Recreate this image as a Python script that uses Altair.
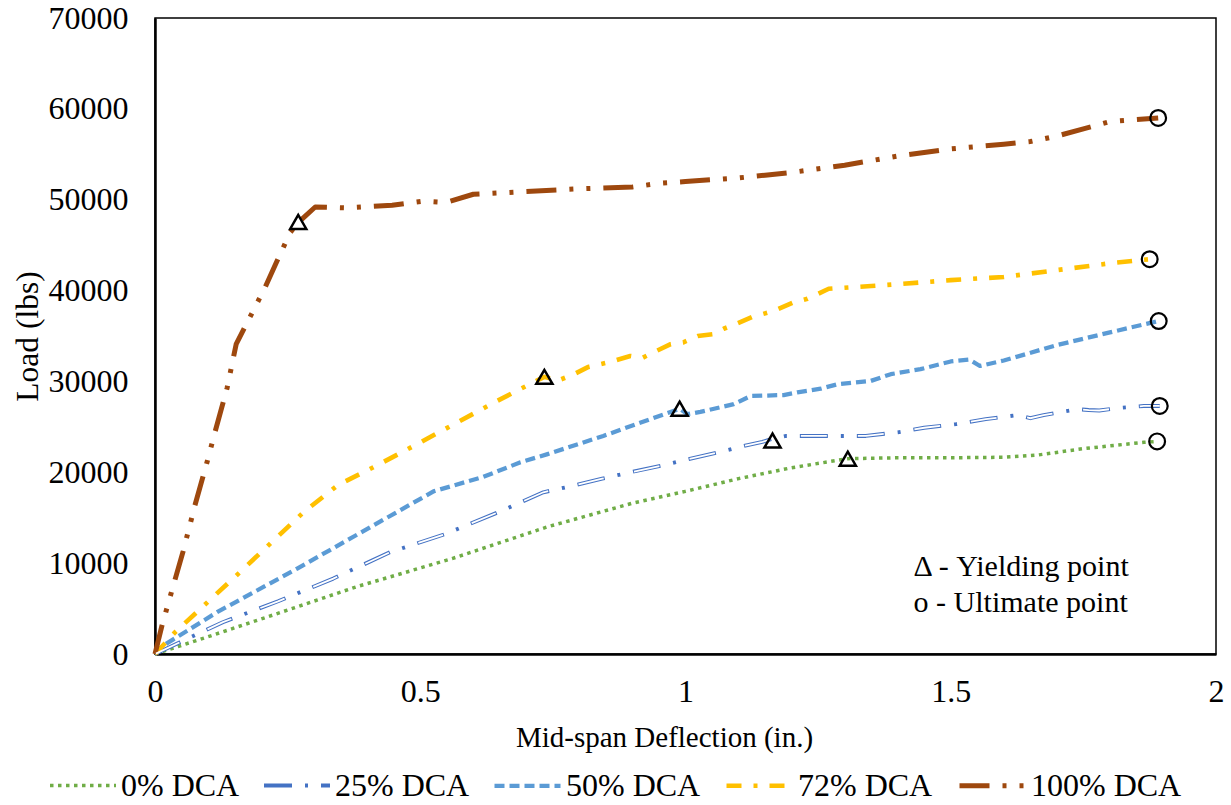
import altair as alt
import pandas as pd

FONT = "Liberation Serif"

series = ["0% DCA", "25% DCA", "50% DCA", "72% DCA", "100% DCA"]
colors = ["#70AD47", "#4472C4", "#5B9BD5", "#FFC000", "#9E480E"]
dashes = [[3.5, 4.5], [28, 13, 3, 13], [10, 5], [15, 12, 4, 12], [30, 13, 4, 13, 4, 13]]
widths = [3.5, 5, 4, 4, 4]

# 0% DCA
x0 = [0, 0.1, 0.2, 0.38, 0.56, 0.74, 0.9, 1.0, 1.1, 1.2, 1.306, 1.4, 1.5, 1.6, 1.664, 1.75, 1.864, 1.889]
y0 = [0, 1900, 3850, 7400, 10500, 14000, 16600, 17900, 19300, 20500, 21500, 21600, 21600, 21650, 21900, 22600, 23300, 23400]

# 25% DCA
x25 = [0, 0.047, 0.128, 0.232, 0.336, 0.443, 0.547, 0.651, 0.732, 0.787, 0.843, 0.896, 0.953, 1.006,
       1.062, 1.117, 1.145, 1.165, 1.19, 1.34, 1.40, 1.45, 1.51, 1.566, 1.60, 1.626, 1.65, 1.675,
       1.71, 1.74, 1.76, 1.78, 1.82, 1.864, 1.894]
y25 = [0, 1300, 3500, 5800, 8300, 11200, 13200, 15700, 17800, 18500, 19300, 20000, 20700, 21450,
       22200, 23000, 23350, 23700, 24000, 24000, 24400, 24900, 25300, 25850, 26100, 26300, 25950, 26300,
       26650, 26950, 26850, 26800, 27100, 27300, 27300]

# 50% DCA
x50 = [0, 0.015, 0.117, 0.268, 0.392, 0.525, 0.619, 0.689, 0.74, 0.845, 0.989, 1.004, 1.028, 1.091,
       1.123, 1.185, 1.211, 1.255, 1.287, 1.349, 1.387, 1.443, 1.5, 1.535, 1.555, 1.6, 1.7, 1.8, 1.892]
y50 = [0, 900, 4600, 9400, 13500, 17900, 19500, 21100, 22000, 24000, 27000, 26400, 26650, 27500,
       28400, 28500, 28800, 29200, 29700, 30050, 30800, 31350, 32200, 32400, 31700, 32300, 34000, 35400, 36650]

# 72% DCA
x72 = [0, 0.038, 0.16, 0.22, 0.28, 0.345, 0.42, 0.494, 0.64, 0.713, 0.734, 0.76, 0.79, 0.817, 0.855,
       0.896, 0.919, 0.945, 0.972, 0.996, 1.023, 1.051, 1.072, 1.098, 1.126, 1.166, 1.204, 1.23, 1.27,
       1.35, 1.4, 1.5, 1.6, 1.7, 1.8, 1.875]
y72 = [0, 2400, 9000, 12300, 15600, 18600, 20800, 23100, 27700, 29900, 30500, 30100, 30800, 31600, 32100,
       32800, 32600, 33350, 34100, 34300, 35000, 35200, 35800, 36400, 37100, 37750, 38700, 39100, 40200,
       40500, 40700, 41150, 41500, 42250, 43000, 43450]

# 100% DCA
x100 = [0, 0.013, 0.03, 0.053, 0.075, 0.098, 0.113, 0.136, 0.153, 0.208, 0.23, 0.255, 0.27, 0.302,
        0.364, 0.447, 0.506, 0.534, 0.557, 0.6, 0.7, 0.8, 0.9, 0.95, 1.0, 1.1, 1.15, 1.2, 1.3, 1.4,
        1.5, 1.6, 1.65, 1.7, 1.75, 1.8, 1.891]
y100 = [0, 3100, 6600, 11300, 16300, 21100, 24400, 29300, 34100, 40400, 43250, 46400, 47500, 49200,
        49100, 49400, 49850, 49750, 49850, 50600, 50900, 51200, 51400, 51800, 52000, 52400, 52700, 53000,
        53800, 54800, 55600, 56100, 56400, 57000, 57800, 58600, 59000]

# Yielding (triangle) and ultimate (circle) points
yield_x = [1.306, 1.164, 0.989, 0.734, 0.270]
yield_y = [21500, 23500, 27000, 30500, 47550]
ult_x = [1.889, 1.894, 1.892, 1.875, 1.891]
ult_y = [23400, 27300, 36650, 43450, 59000]

y_ticks = [0, 10000, 20000, 30000, 40000, 50000, 60000, 70000]
x_ticks = [0, 0.5, 1, 1.5, 2]

note_text = ["\u0394 - Yielding point", "o - Ultimate point"]
note_x = [1.43, 1.43]
note_y = [9600, 5600]

rows = []
for name, xs, ys in zip(series, [x0, x25, x50, x72, x100], [y0, y25, y50, y72, y100]):
    for i, (a, b) in enumerate(zip(xs, ys)):
        rows.append({"series": name, "x": a, "y": b, "i": i})
df = pd.DataFrame(rows)
df25 = df[df["series"] == "25% DCA"]

df_yield = pd.DataFrame({"x": yield_x, "y": yield_y})
df_ult = pd.DataFrame({"x": ult_x, "y": ult_y})
df_note = pd.DataFrame({"x": note_x, "y": note_y, "t": note_text})

xscale = alt.Scale(domain=[0, 2], nice=False, zero=True)
yscale = alt.Scale(domain=[0, 70000], nice=False)

legend = alt.Legend(
    orient="none", legendX=-107, legendY=732, direction="horizontal", title=None,
    symbolType="stroke", symbolSize=4356, symbolStrokeWidth=4.5,
    labelFontSize=32, labelFont=FONT, labelColor="black", labelOffset=3,
    columnPadding=16, labelLimit=0,
)

xaxis = alt.Axis(values=x_ticks, format="~g", title="Mid-span Deflection (in.)",
                 titleX=509, titleY=83, titleBaseline="middle", labelPadding=22,
                 labelFlush=False, titleFontSize=29)
yaxis = alt.Axis(values=y_ticks, format="d", title="Load (lbs)",
                 titleX=-127, titleY=318, titleBaseline="middle", labelPadding=27,
                 titleFontSize=31.5)

lines = alt.Chart(df).mark_line(strokeCap="butt", strokeJoin="round").encode(
    x=alt.X("x:Q", scale=xscale, axis=xaxis),
    y=alt.Y("y:Q", scale=yscale, axis=yaxis),
    color=alt.Color("series:N", scale=alt.Scale(domain=series, range=colors), legend=legend, sort=series),
    strokeDash=alt.StrokeDash("series:N", scale=alt.Scale(domain=series, range=dashes), legend=legend, sort=series),
    strokeWidth=alt.StrokeWidth("series:N", scale=alt.Scale(domain=series, range=widths), legend=None),
    order="i:Q",
    detail="series:N",
)

inner25 = alt.Chart(df25).mark_line(
    color="white", strokeWidth=1.8, strokeDash=[26, 31], strokeDashOffset=-1, strokeCap="butt"
).encode(
    x=alt.X("x:Q", scale=xscale),
    y=alt.Y("y:Q", scale=yscale),
    order="i:Q",
)

tri = alt.Chart(df_yield).mark_point(
    shape="triangle-up", size=260, filled=False, color="black", strokeWidth=2.5, opacity=1
).encode(x=alt.X("x:Q", scale=xscale), y=alt.Y("y:Q", scale=yscale))

circ = alt.Chart(df_ult).mark_point(
    shape="circle", size=250, filled=False, color="black", strokeWidth=2.2, opacity=1
).encode(x=alt.X("x:Q", scale=xscale), y=alt.Y("y:Q", scale=yscale))

notes = alt.Chart(df_note).mark_text(
    align="left", baseline="middle", font=FONT, fontSize=30, color="black"
).encode(x=alt.X("x:Q", scale=xscale), y=alt.Y("y:Q", scale=yscale), text="t:N")

chart = alt.layer(lines, inner25, tri, circ, notes).properties(
    width=1061, height=636,
    padding={"left": 155, "top": 18, "right": 15, "bottom": 151},
    autosize=alt.AutoSizeParams(type="none"),
    background="white",
).configure_view(
    stroke="black", strokeWidth=1.5
).configure_axis(
    labelFont=FONT, titleFont=FONT, labelFontSize=32, titleFontSize=30,
    labelColor="black", titleColor="black", titleFontWeight="normal",
    grid=False, ticks=False, domainColor="black", domainWidth=2.5,
)

chart.save("out.html", embed_options={"renderer": "svg", "actions": False})
